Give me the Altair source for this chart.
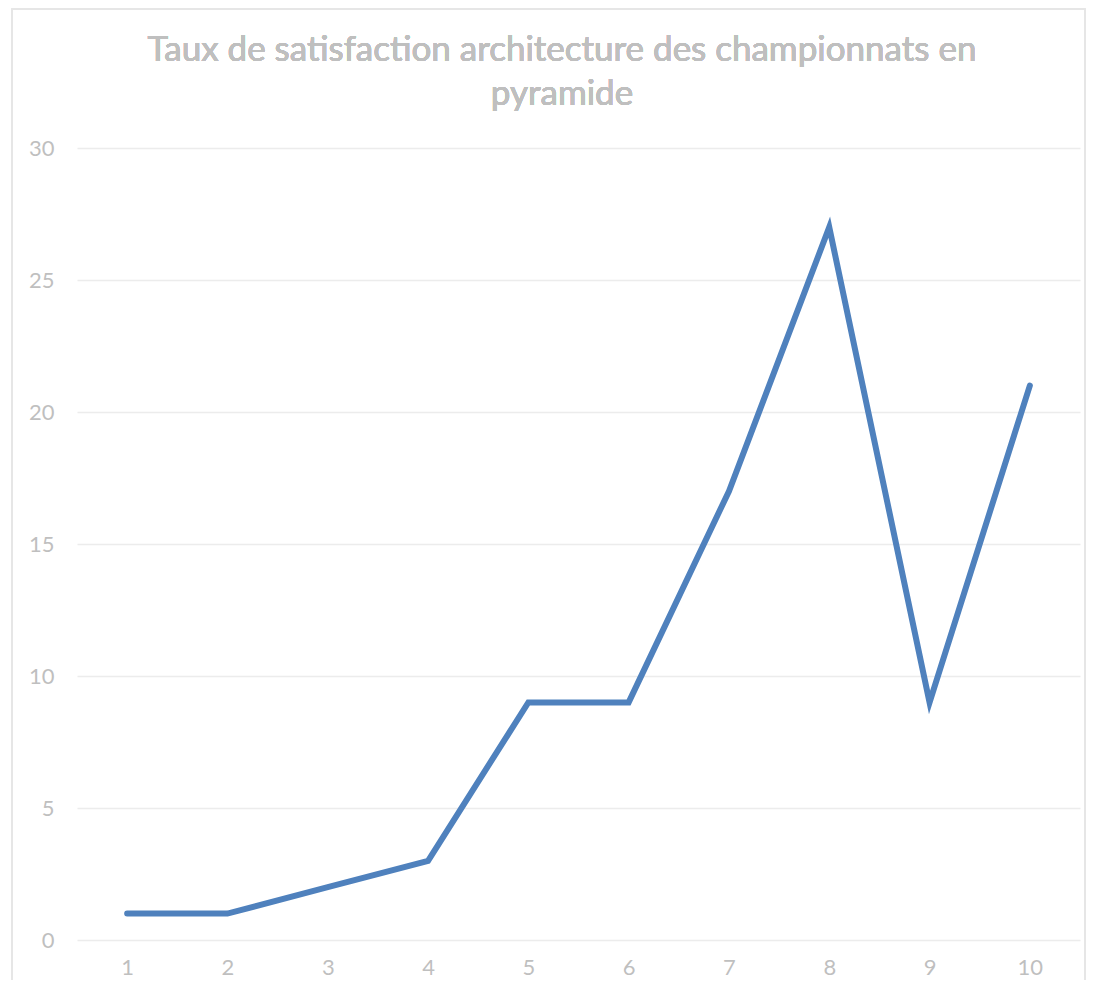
import altair as alt
import pandas as pd

categories = ["1", "2", "3", "4", "5", "6", "7", "8", "9", "10"]
values = [1, 1, 2, 3, 9, 9, 17, 27, 9, 21]
title_lines = ["Taux de satisfaction architecture des championnats en", "pyramide"]

df = pd.DataFrame({"cat": categories, "val": values})

FONT = "Lato"
GREY = "#bfbfbf"

line = alt.Chart(df).mark_line(color="#4f81bd", strokeWidth=6, strokeCap="round", strokeJoin="miter").encode(
    x=alt.X("cat:N", sort=categories, title=None,
            scale=alt.Scale(paddingInner=0, paddingOuter=0.5, align=0.5),
            axis=alt.Axis(labelAngle=0, labelFontSize=22, labelColor=GREY, labelFont=FONT,
                          ticks=False, domain=False, grid=False, labelPadding=17)),
    y=alt.Y("val:Q", title=None,
            scale=alt.Scale(domain=[0, 30], nice=False),
            axis=alt.Axis(values=[0, 5, 10, 15, 20, 25, 30], labelFontSize=22, labelColor=GREY,
                          labelFont=FONT, ticks=False, domain=False, gridColor="#ececec",
                          gridWidth=1.5, labelPadding=23)),
)

border = alt.Chart(df).mark_rect(fill=None, stroke="#e6e6e6", strokeWidth=1.5).encode(
    x=alt.value(-65), x2=alt.value(1008), y=alt.value(-139), y2=alt.value(870)
)

title1 = alt.Chart(df).mark_text(font=FONT, fontSize=35, fontWeight="normal", color=GREY,
                                 align="center", baseline="alphabetic").encode(
    x=alt.value(485), y=alt.value(-87), text=alt.value(title_lines[0])
)
title2 = alt.Chart(df).mark_text(font=FONT, fontSize=35, fontWeight="normal", color=GREY,
                                 align="center", baseline="alphabetic").encode(
    x=alt.value(485), y=alt.value(-43), text=alt.value(title_lines[1])
)

chart = alt.layer(border, title1, title2, line).properties(
    width=1003, height=792,
    padding={"left": 69, "top": 140, "right": 7, "bottom": 40},
    autosize=alt.AutoSizeParams(type="none"),
).configure_view(stroke=None)

chart.save("out.html", embed_options={"renderer": "svg", "actions": False})
